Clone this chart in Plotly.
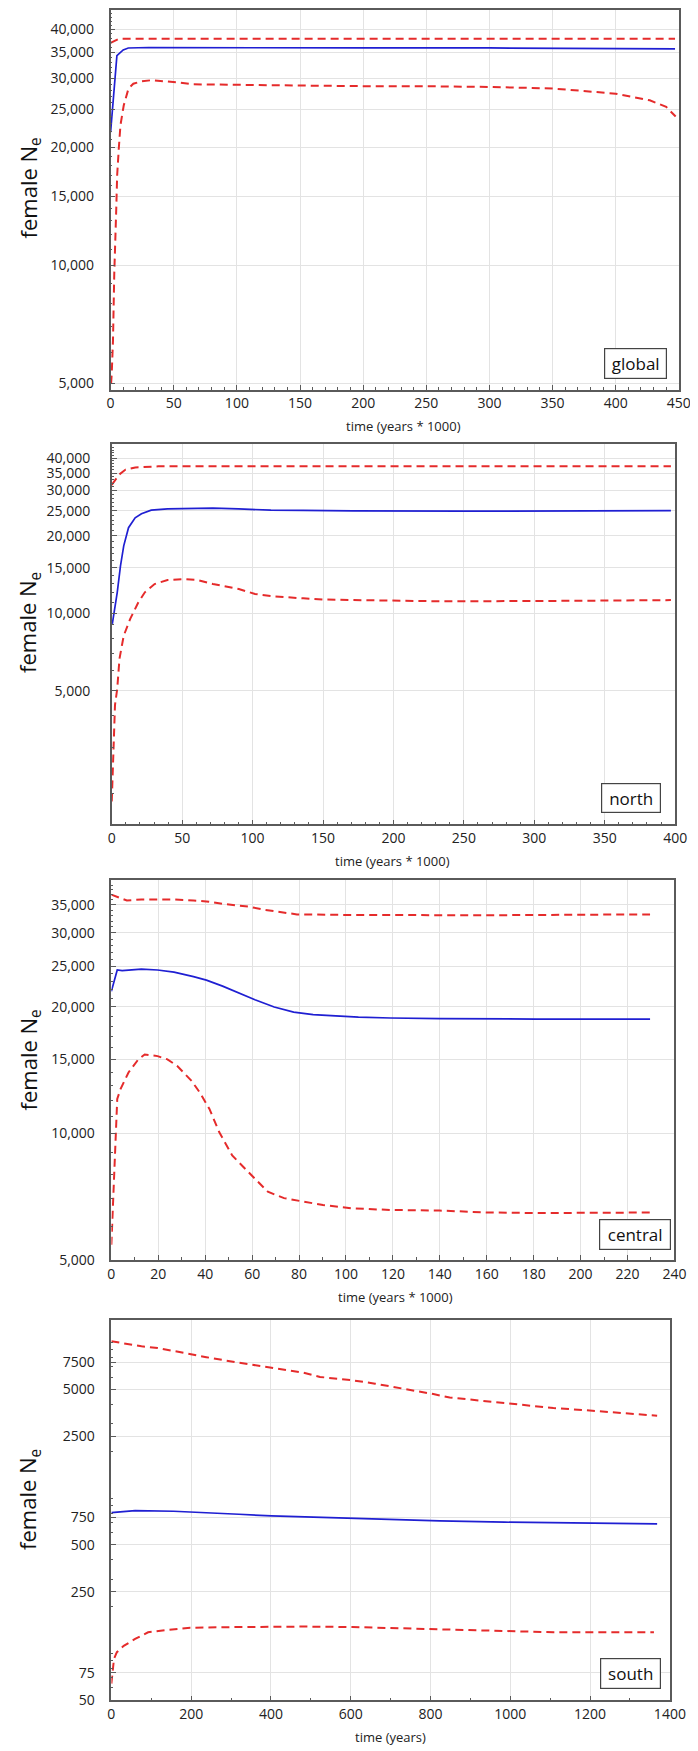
import plotly.graph_objects as go
import math

# ---------------- data ----------------
# global (time in years*1000)
global_time_upper = [0, 3, 6.5, 15, 100, 200, 300, 400, 447]
global_upper = [37000, 37500, 37900, 37900, 37900, 37900, 37900, 37900, 37900]
global_time_mean = [0, 5, 10, 14, 30, 100, 200, 300, 400, 447]
global_mean = [21900, 34300, 35500, 35900, 36000, 35900, 35900, 35900, 35800, 35700]
global_time_lower = [0.4, 0.9, 1.9, 2.9, 4.5, 5.2, 6.5, 7.8, 10.4, 14.2, 18, 24.5, 32, 45, 55, 65,
                     100, 190, 260, 300, 350, 400, 427, 440, 447.5]
global_lower = [5000, 5300, 6440, 9510, 14000, 17000, 19900, 22800, 25600, 28300, 29100, 29500, 29700,
                29500, 29300, 29000, 28900, 28700, 28650, 28550, 28300, 27450, 26400, 25400, 24000]

# north
north_time_upper = [0, 5.2, 9.8, 16.7, 33, 100, 200, 300, 397]
north_upper = [31500, 34500, 36100, 36800, 37150, 37150, 37150, 37150, 37150]
north_time_mean = [0.4, 3.9, 6.2, 8.5, 11.9, 16.6, 21.1, 28, 39.6, 55.7, 71.8, 90, 99.4, 113, 136,
                   171, 250, 330, 397]
north_mean = [9090, 12050, 15270, 18250, 21470, 23470, 24320, 25120, 25410, 25570, 25570, 25410,
              25290, 25120, 25070, 24960, 24900, 24900, 25000]
north_time_lower = [0, 1.4, 2.3, 3.9, 5.5, 8.5, 13.1, 18.9, 23.5, 30.4, 39.6, 51.1, 60.3, 71.8, 90.2,
                    101.7, 115.5, 136, 150, 171, 233, 302, 397]
north_lower = [1860, 3270, 4400, 5100, 6670, 8180, 9510, 11020, 12050, 12980, 13450, 13550, 13470,
               12980, 12410, 11880, 11620, 11420, 11300, 11250, 11120, 11150, 11240]

# central
central_time_upper = [0, 3.2, 6.6, 12.8, 26.7, 35, 40.5, 47.4, 58.4, 65.3, 72.2, 79.1, 102.6, 140,
                      160, 202, 229.6]
central_upper = [37000, 36350, 35830, 36030, 36030, 35830, 35650, 35170, 34670, 34050, 33560, 33200,
                 33100, 33050, 33050, 33150, 33200]
central_time_mean = [0, 2.5, 4.6, 12.8, 19.7, 26.7, 35, 40.5, 47.4, 54.3, 61.2, 69.4, 77.7, 86, 95.6,
                     105.3, 119, 139.8, 181, 229.6]
central_mean = [21780, 24490, 24410, 24600, 24490, 24210, 23610, 23170, 22420, 21560, 20800, 19990,
                19450, 19180, 19010, 18910, 18830, 18760, 18720, 18720]
central_time_lower = [0, 0.8, 1.5, 2.5, 3.9, 7.3, 11.5, 14.2, 19.7, 23.9, 28, 34.2, 37.7, 41.8, 46,
                      51.5, 58.4, 66.7, 73.6, 81.9, 90.2, 102.6, 119, 139.8, 160.5, 181, 229.6]
central_lower = [5440, 7140, 9370, 12080, 12760, 13970, 15010, 15420, 15280, 15010, 14490, 13340,
                 12520, 11440, 10070, 8870, 8100, 7270, 7020, 6890, 6760, 6640, 6580, 6560, 6490,
                 6470, 6490]

# south (time in years)
south_time_upper = [0, 75.6, 116, 197.6, 238, 319.5, 401, 482, 523, 563, 604, 661, 742, 807, 848,
                    946, 1002, 1108, 1206, 1287, 1368]
south_upper = [10210, 9480, 9250, 8390, 8070, 7430, 6900, 6410, 6020, 5900, 5730, 5450, 5020, 4670,
               4440, 4180, 4060, 3800, 3650, 3530, 3390]
south_time_mean = [0, 59.5, 156, 197.6, 238, 319.5, 401, 482, 563, 604, 742, 823, 986, 1148, 1368]
south_mean = [806, 830, 823, 815, 802, 787, 768, 757, 742, 735, 724, 713, 700, 692, 682]
south_time_lower = [0, 6.6, 13.8, 31, 59.5, 92, 141, 197.6, 319.5, 482, 604, 823, 986, 1108, 1360]
south_lower = [64, 92.5, 102, 112, 124, 137, 142, 146.5, 148, 149, 148, 143.5, 139, 137, 137]

panel_names = ["global", "north", "central", "south"]
x_titles = ["time (years * 1000)", "time (years * 1000)", "time (years * 1000)", "time (years)"]
y_title = "female N<sub>e</sub>"

big_ticks = [5000, 10000, 15000, 20000, 25000, 30000, 35000, 40000]
big_labels = ["5,000", "10,000", "15,000", "20,000", "25,000", "30,000", "35,000", "40,000"]
central_ticks = [5000, 10000, 15000, 20000, 25000, 30000, 35000]
central_labels = ["5,000", "10,000", "15,000", "20,000", "25,000", "30,000", "35,000"]
south_ticks = [50, 75, 250, 500, 750, 2500, 5000, 7500]
south_labels = ["50", "75", "250", "500", "750", "2500", "5000", "7500"]

# ---------------- layout geometry ----------------
W, H = 698, 1751
def px(x):
    return x / W
def py(y):
    return 1 - y / H

panels = [
    dict(series=(global_time_upper, global_upper, global_time_mean, global_mean, global_time_lower, global_lower),
         xr=[0, 450], xd=(101.5, 686.5), yd=(1, 383), yr=(3.683, 4.652), dt=50, mdt=10,
         yt=big_ticks, yl=big_labels, box=(610, 340, 674, 372), xt=(403, 419), yc=180, yso=12),
    dict(series=(north_time_upper, north_upper, north_time_mean, north_mean, north_time_lower, north_lower),
         xr=[0, 400], xd=(102.7, 682.7), yd=(437.7, 820), yr=(3.1805, 4.656), dt=50, mdt=10,
         yt=big_ticks, yl=big_labels, box=(607, 778, 668, 809), xt=(392, 857), yc=617, yso=17),
    dict(series=(central_time_upper, central_upper, central_time_mean, central_mean, central_time_lower, central_lower),
         xr=[0, 240], xd=(102.3, 682), yd=(876, 1258.3), yr=(3.699, 4.603), dt=20, mdt=10,
         yt=central_ticks, yl=central_labels, box=(605, 1216, 678, 1248), xt=(395, 1295), yc=1057, yso=12),
    dict(series=(south_time_upper, south_upper, south_time_mean, south_mean, south_time_lower, south_lower),
         xr=[0, 1400], xd=(102.3, 677.3), yd=(1319, 1701), yr=(math.log10(50), 4.143), dt=200, mdt=100,
         yt=south_ticks, yl=south_labels, box=(606, 1658, 668, 1690), xt=(390, 1738), yc=1499, yso=12),
]

RED = "#e52b2b"
BLUE = "#1f1fd2"
AXCOL = "#5a5a5a"
GRID = "#e3e3e3"
FONT = "Open Sans"

fig = go.Figure()
annotations = []
layout = dict(
    width=W, height=H, margin=dict(l=0, r=0, t=0, b=0),
    paper_bgcolor="white", plot_bgcolor="white", showlegend=False,
    font=dict(family=FONT, size=14, color="#222222"),
)

for i, p in enumerate(panels):
    k = "" if i == 0 else str(i + 1)
    xa, ya = "x" + k, "y" + k
    tu, u, tm, m, tl, l = p["series"]
    fig.add_trace(go.Scatter(x=tu, y=u, mode="lines", xaxis=xa, yaxis=ya,
                             line=dict(color=RED, width=2, dash="8px,5px")))
    fig.add_trace(go.Scatter(x=tl, y=l, mode="lines", xaxis=xa, yaxis=ya,
                             line=dict(color=RED, width=2, dash="8px,5px")))
    fig.add_trace(go.Scatter(x=tm, y=m, mode="lines", xaxis=xa, yaxis=ya,
                             line=dict(color=BLUE, width=1.7)))

    if i < 3:
        ymin = [v * 1000 for v in range(2, 46)]
    else:
        ymin = [60, 70, 80, 90, 100, 200, 300, 400, 600, 700, 800, 900, 1000, 2000, 3000, 4000,
                6000, 7000, 8000, 9000, 10000]

    layout["xaxis" + k] = dict(
        domain=[px(p["xd"][0]), px(p["xd"][1])], anchor=ya, range=p["xr"],
        tickmode="linear", tick0=0, dtick=p["dt"], ticks="inside", ticklen=5, tickcolor=AXCOL,
        showline=True, linecolor=AXCOL, linewidth=1.5, mirror=True,
        showgrid=True, gridcolor=GRID, gridwidth=1, zeroline=False,
        tickfont=dict(size=14, family=FONT, color="#222222"), ticklabelstandoff=0,
        minor=dict(ticks="inside", ticklen=3, tickcolor=AXCOL, dtick=p["mdt"], tick0=0, showgrid=False),
    )
    layout["yaxis" + k] = dict(
        domain=[py(p["yd"][1]), py(p["yd"][0])], anchor=xa, type="log", range=list(p["yr"]),
        tickmode="array", tickvals=p["yt"], ticktext=p["yl"], ticks="inside", ticklen=5,
        tickcolor=AXCOL, showline=True, linecolor=AXCOL, linewidth=1.5, mirror=True,
        showgrid=True, gridcolor=GRID, gridwidth=1, zeroline=False,
        tickfont=dict(size=14, family=FONT, color="#222222"),
        ticklabelstandoff=p["yso"],
        minor=dict(ticks="inside", ticklen=2, tickcolor=AXCOL, tickmode="array", tickvals=ymin,
                   showgrid=False),
    )

    # panel label box
    x0, y0, x1, y1 = p["box"]
    annotations.append(dict(
        xref="paper", yref="paper", x=px(x1), y=py(y1), xanchor="right", yanchor="bottom",
        text=panel_names[i], showarrow=False, font=dict(size=17, family=FONT, color="#111111"),
        bgcolor="white", bordercolor="#444444", borderwidth=1.2, borderpad=0,
        width=x1 - x0 - 3, height=y1 - y0 - 3, align="center", valign="middle"))
    # x title
    annotations.append(dict(
        xref="paper", yref="paper", x=px(p["xt"][0]), y=py(p["xt"][1]), xanchor="center",
        yanchor="middle", text=x_titles[i], showarrow=False,
        font=dict(size=13, family=FONT, color="#222222")))
    # y title
    annotations.append(dict(
        xref="paper", yref="paper", x=px(18), y=py(p["yc"]), xanchor="center", yanchor="middle",
        text=y_title, textangle=-90, showarrow=False,
        font=dict(size=22, family=FONT, color="#111111")))

layout["annotations"] = annotations
fig.update_layout(**layout)
fig.write_html("out.html")
